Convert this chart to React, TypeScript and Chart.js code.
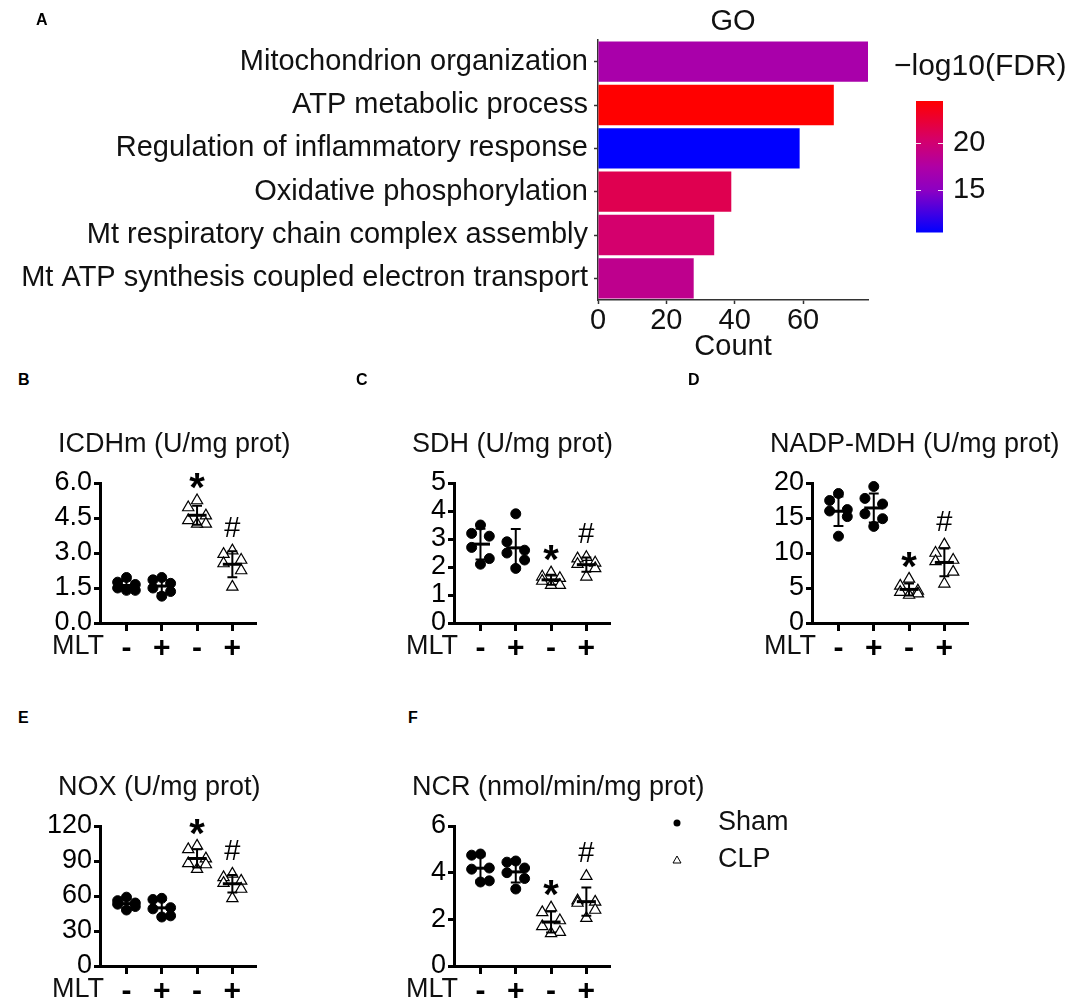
import React, { useEffect, useRef } from 'react';
import { Chart, registerables } from 'chart.js';

Chart.register(...registerables);

const FONT = '"Liberation Sans", Arial, Helvetica, sans-serif';
Chart.defaults.font.family = FONT;
Chart.defaults.color = '#000';

// ---------- Panel A: GO enrichment ----------
const goTerms = [
  'Mitochondrion organization',
  'ATP metabolic process',
  'Regulation of inflammatory response',
  'Oxidative phosphorylation',
  'Mt respiratory chain complex assembly',
  'Mt ATP synthesis coupled electron transport',
];
const goCounts = [79, 69, 59, 39, 34, 28];
const goLogFdr = [17.0, 24.4, 10.5, 21.3, 20.2, 18.6];
const countTicks = [0, 20, 40, 60];
const fdrTicks = [15, 20];

// ---------- Panels B–F (groups: Sham MLT−, Sham MLT+, CLP MLT−, CLP MLT+) ----------
const mltLabels = ['-', '+', '-', '+'];
const sigMarks = ['', '', '*', '#'];
const legendNames = ['Sham', 'CLP'];

const icdhmValues = [
  [1.95, 1.75, 1.65, 1.5, 1.4, 1.4],
  [1.95, 1.85, 1.7, 1.5, 1.35, 1.15],
  [5.25, 4.95, 4.6, 4.4, 4.25, 4.25],
  [3.1, 2.95, 2.7, 2.55, 2.25, 1.55],
];
const icdhmTicks = [0, 1.5, 3, 4.5, 6];

const sdhValues = [
  [3.5, 3.2, 3.1, 2.7, 2.3, 2.1],
  [3.9, 2.9, 2.6, 2.5, 2.25, 1.95],
  [1.8, 1.65, 1.6, 1.5, 1.35, 1.35],
  [2.35, 2.3, 2.15, 2.1, 1.95, 1.65],
];
const sdhTicks = [0, 1, 2, 3, 4, 5];

const nadpValues = [
  [18.5, 17.5, 16.2, 16.0, 15.2, 12.4],
  [19.5, 17.8, 17.0, 15.6, 14.9, 13.8],
  [6.3, 5.3, 4.6, 4.4, 4.2, 4.0],
  [11.2, 10.0, 9.0, 8.8, 7.3, 5.6],
];
const nadpTicks = [0, 5, 10, 15, 20];

const noxValues = [
  [59, 56, 54, 53, 51, 48],
  [58, 57, 50, 49, 43, 42],
  [103, 100, 92, 88, 87, 83],
  [79, 76, 73, 71, 66, 58],
];
const noxTicks = [0, 30, 60, 90, 120];

const ncrValues = [
  [4.8, 4.75, 4.2, 4.15, 3.65, 3.6],
  [4.5, 4.45, 4.2, 4.0, 3.75, 3.3],
  [2.5, 2.3, 1.95, 1.7, 1.45, 1.4],
  [3.85, 2.8, 2.75, 2.7, 2.4, 2.05],
];
const ncrTicks = [0, 2, 4, 6];

// ---------- styling helpers ----------
const RAMP: [number, number[]][] = [
  [0, [0, 0, 255]],
  [0.32, [140, 0, 195]],
  [0.5, [175, 0, 165]],
  [0.7, [212, 0, 108]],
  [1, [255, 0, 0]],
];
function rampColor(f: number): string {
  const t = Math.max(0, Math.min(1, f));
  for (let i = 1; i < RAMP.length; i++) {
    const [p1, c1] = RAMP[i];
    const [p0, c0] = RAMP[i - 1];
    if (t <= p1) {
      const u = (t - p0) / (p1 - p0);
      const c = c0.map((v, k) => Math.round(v + (c1[k] - v) * u));
      return `rgb(${c[0]},${c[1]},${c[2]})`;
    }
  }
  return 'rgb(255,0,0)';
}
const fdrLo = Math.min(...goLogFdr);
const fdrHi = Math.max(...goLogFdr);

const JITTER = [0, -0.25, 0.25, -0.25, 0.25, 0];

// ---------- Panel A bars ----------
function GoBars() {
  const ref = useRef<HTMLCanvasElement>(null);
  useEffect(() => {
    const chart = new Chart(ref.current as HTMLCanvasElement, {
      type: 'bar',
      data: {
        labels: goTerms,
        datasets: [
          {
            data: goCounts,
            backgroundColor: goLogFdr.map((v) => rampColor((v - fdrLo) / (fdrHi - fdrLo))),
            borderWidth: 0,
            barPercentage: 0.93,
            categoryPercentage: 1,
          },
        ],
      },
      options: {
        indexAxis: 'y',
        responsive: false,
        animation: false,
        layout: { padding: { top: 40, right: 32, left: 0, bottom: 0 } },
        plugins: { legend: { display: false }, tooltip: { enabled: false } },
        scales: {
          x: {
            type: 'linear',
            min: 0,
            max: Math.max(...goCounts),
            afterBuildTicks: (s: any) => {
              s.ticks = countTicks.map((v) => ({ value: v }));
            },
            afterFit: (s: any) => {
              s.height = 70;
            },
            ticks: { font: { size: 29 }, color: '#111', padding: 0, maxRotation: 0, autoSkip: false },
            grid: { drawOnChartArea: false, tickLength: 4, tickWidth: 1.5, tickColor: '#333' },
            border: { color: '#333', width: 1.5 },
            title: { display: true, text: 'Count', font: { size: 29 }, color: '#111', padding: { top: 0, bottom: 6 } },
          },
          y: {
            afterFit: (s: any) => {
              s.width = 598;
            },
            ticks: { font: { size: 29 }, color: '#111', padding: 6, autoSkip: false },
            grid: { offset: false, drawOnChartArea: false, tickLength: 4, tickWidth: 1.5, tickColor: '#333' },
            border: { color: '#333', width: 1.5 },
          },
        },
      } as any,
      plugins: [
        {
          id: 'goTitle',
          afterDraw(c: any) {
            const { ctx, chartArea } = c;
            ctx.save();
            ctx.font = `29px ${FONT}`;
            ctx.fillStyle = '#111';
            ctx.textAlign = 'center';
            ctx.textBaseline = 'middle';
            ctx.fillText('GO', (chartArea.left + chartArea.right) / 2, 22);
            ctx.restore();
          },
        },
      ],
    });
    return () => chart.destroy();
  }, []);
  return <canvas ref={ref} width={900} height={370} style={{ position: 'absolute', left: 0, top: 0, width: 900, height: 370 }} />;
}

// ---------- Panel A colour bar ----------
function ColorBar() {
  const ref = useRef<HTMLCanvasElement>(null);
  useEffect(() => {
    const chart = new Chart(ref.current as HTMLCanvasElement, {
      type: 'bar',
      data: {
        labels: [''],
        datasets: [
          {
            data: [[fdrLo, fdrHi]] as any,
            backgroundColor: (ctx: any) => {
              const { chart: ch } = ctx;
              const area = ch.chartArea;
              if (!area) return 'rgb(170,0,170)';
              const g = ch.ctx.createLinearGradient(0, area.bottom, 0, area.top);
              RAMP.forEach(([p]) => g.addColorStop(p, rampColor(p)));
              return g;
            },
            borderWidth: 0,
            barPercentage: 1,
            categoryPercentage: 1,
          },
        ],
      },
      options: {
        responsive: false,
        animation: false,
        layout: { padding: { top: 61, left: 36, bottom: 20, right: 0 } },
        plugins: { legend: { display: false }, tooltip: { enabled: false } },
        scales: {
          x: { display: false },
          y: {
            position: 'right',
            min: fdrLo,
            max: fdrHi,
            afterBuildTicks: (s: any) => {
              s.ticks = fdrTicks.map((v) => ({ value: v }));
            },
            afterFit: (s: any) => {
              s.width = 141;
            },
            ticks: { font: { size: 29 }, color: '#111', padding: 10, autoSkip: false },
            grid: { display: true, drawOnChartArea: false, drawTicks: false },
            border: { display: false },
          },
        },
      } as any,
      plugins: [
        {
          id: 'cbExtras',
          afterDatasetsDraw(c: any) {
            const { ctx, chartArea, scales } = c;
            ctx.save();
            ctx.strokeStyle = 'rgba(255,255,255,0.9)';
            ctx.lineWidth = 1;
            fdrTicks.forEach((v) => {
              const y = Math.round(scales.y.getPixelForValue(v)) + 0.5;
              ctx.beginPath();
              ctx.moveTo(chartArea.left, y);
              ctx.lineTo(chartArea.left + 5, y);
              ctx.moveTo(chartArea.right - 5, y);
              ctx.lineTo(chartArea.right, y);
              ctx.stroke();
            });
            ctx.font = `30px ${FONT}`;
            ctx.fillStyle = '#111';
            ctx.textAlign = 'left';
            ctx.textBaseline = 'middle';
            ctx.fillText('\u2212log10(FDR)', 14, 27);
            ctx.restore();
          },
        },
      ],
    });
    return () => chart.destroy();
  }, []);
  return <canvas ref={ref} width={204} height={220} style={{ position: 'absolute', left: 880, top: 40, width: 204, height: 220 }} />;
}

// ---------- Panels B–F dot plots ----------
type Box = { left: number; right: number; top: number; bottom: number };
type DotProps = {
  title: string;
  groups: number[][];
  yTicks: number[];
  decimals: number;
  box: Box;
  legend?: boolean;
};

function DotPanel({ title, groups, yTicks, decimals, box, legend }: DotProps) {
  const ref = useRef<HTMLCanvasElement>(null);
  const AXW = 70;
  const AXH = 45;
  const PADT = 100;
  const PADR = legend ? 200 : 112;
  const width = AXW + (box.right - box.left) + PADR;
  const height = PADT + (box.bottom - box.top) + AXH;

  useEffect(() => {
    const sham: { x: number; y: number }[] = [];
    const clp: { x: number; y: number }[] = [];
    groups.forEach((vals, gi) => {
      const sorted = [...vals].sort((a, b) => b - a);
      sorted.forEach((v, i) => {
        const pt = { x: gi + 1 + JITTER[i % JITTER.length], y: v };
        (gi < 2 ? sham : clp).push(pt);
      });
    });

    const extras = {
      id: 'dotExtras',
      afterDatasetsDraw(c: any) {
        const { ctx, chartArea: a, scales } = c;
        const xs = scales.x;
        const ys = scales.y;
        ctx.save();
        ctx.strokeStyle = '#000';
        ctx.fillStyle = '#000';
        groups.forEach((vals, gi) => {
          const n = vals.length;
          const m = vals.reduce((s, v) => s + v, 0) / n;
          const sd = Math.sqrt(vals.reduce((s, v) => s + (v - m) * (v - m), 0) / (n - 1));
          const cx = xs.getPixelForValue(gi + 1);
          const hw = xs.getPixelForValue(gi + 1.27) - cx;
          const cw = xs.getPixelForValue(gi + 1.14) - cx;
          const yT = ys.getPixelForValue(m + sd);
          const yB = ys.getPixelForValue(m - sd);
          const yM = ys.getPixelForValue(m);
          ctx.lineWidth = 2;
          ctx.beginPath();
          ctx.moveTo(cx, yT);
          ctx.lineTo(cx, yB);
          ctx.moveTo(cx - cw, yT);
          ctx.lineTo(cx + cw, yT);
          ctx.moveTo(cx - cw, yB);
          ctx.lineTo(cx + cw, yB);
          ctx.stroke();
          ctx.lineWidth = 3;
          ctx.beginPath();
          ctx.moveTo(cx - hw, yM);
          ctx.lineTo(cx + hw, yM);
          ctx.stroke();
          const mark = sigMarks[gi];
          if (mark) {
            const topPx = ys.getPixelForValue(Math.max(Math.max(...vals), m + sd));
            const cy = topPx - 22;
            ctx.textAlign = 'center';
            if (mark === '*') {
              ctx.font = `bold 40px ${FONT}`;
              ctx.textBaseline = 'alphabetic';
              ctx.fillText('*', cx, cy + 0.57 * 40);
            } else {
              ctx.font = `29px ${FONT}`;
              ctx.textBaseline = 'middle';
              ctx.fillText('#', cx, cy);
            }
          }
        });
        // title
        ctx.font = `27px ${FONT}`;
        ctx.textAlign = 'left';
        ctx.textBaseline = 'middle';
        ctx.fillStyle = '#111';
        ctx.fillText(title, a.left - 42, a.top - 38);
        // MLT row label
        ctx.textAlign = 'right';
        ctx.fillText('MLT', a.left + 4, a.bottom + 24);
        if (legend) {
          const lx = a.right + 67;
          const ty = a.top - 3;
          const cy2 = a.top + 34;
          ctx.fillStyle = '#000';
          ctx.beginPath();
          ctx.arc(lx, ty, 3.5, 0, Math.PI * 2);
          ctx.fill();
          ctx.lineWidth = 1;
          ctx.beginPath();
          ctx.moveTo(lx, cy2 - 4);
          ctx.lineTo(lx + 4, cy2 + 3);
          ctx.lineTo(lx - 4, cy2 + 3);
          ctx.closePath();
          ctx.fillStyle = '#fff';
          ctx.fill();
          ctx.stroke();
          ctx.fillStyle = '#111';
          ctx.textAlign = 'left';
          ctx.font = `27px ${FONT}`;
          ctx.fillText(legendNames[0], a.right + 108, ty);
          ctx.fillText(legendNames[1], a.right + 108, cy2);
        }
        ctx.restore();
      },
    };

    const chart = new Chart(ref.current as HTMLCanvasElement, {
      type: 'scatter',
      data: {
        datasets: [
          {
            label: legendNames[0],
            data: sham,
            pointStyle: 'circle',
            pointRadius: 5,
            backgroundColor: '#000',
            borderColor: '#000',
            borderWidth: 1,
            clip: false,
          },
          {
            label: legendNames[1],
            data: clp,
            pointStyle: 'triangle',
            pointRadius: 6.5,
            backgroundColor: '#fff',
            borderColor: '#000',
            borderWidth: 1.2,
            clip: false,
          },
        ],
      },
      options: {
        responsive: false,
        animation: false,
        layout: { padding: { top: PADT, right: PADR, left: 0, bottom: 0 } },
        plugins: { legend: { display: false }, tooltip: { enabled: false } },
        scales: {
          x: {
            type: 'linear',
            min: 0.25,
            max: 4.67,
            afterBuildTicks: (s: any) => {
              s.ticks = mltLabels.map((_, i) => ({ value: i + 1 }));
            },
            afterFit: (s: any) => {
              s.height = AXH;
            },
            ticks: {
              callback: (_v: any, i: number) => mltLabels[i],
              font: { size: 30, weight: 'bold' },
              color: '#000',
              padding: 0,
              maxRotation: 0,
              autoSkip: false,
            },
            grid: { drawOnChartArea: false, drawTicks: true, tickLength: 8, tickWidth: 3, tickColor: '#000' },
            border: { display: true, color: '#000', width: 3 },
          },
          y: {
            type: 'linear',
            min: yTicks[0],
            max: yTicks[yTicks.length - 1],
            afterBuildTicks: (s: any) => {
              s.ticks = yTicks.map((v) => ({ value: v }));
            },
            afterFit: (s: any) => {
              s.width = AXW;
            },
            ticks: {
              callback: (v: any) => Number(v).toFixed(decimals),
              font: { size: 27 },
              color: '#000',
              padding: 2,
              autoSkip: false,
            },
            grid: { drawOnChartArea: false, tickLength: 6, tickWidth: 3, tickColor: '#000' },
            border: { color: '#000', width: 3 },
          },
        },
      } as any,
      plugins: [extras],
    });
    return () => chart.destroy();
  }, []);

  return (
    <canvas
      ref={ref}
      width={width}
      height={height}
      style={{ position: 'absolute', left: box.left - AXW, top: box.top - PADT, width, height }}
    />
  );
}

const letterStyle: React.CSSProperties = {
  position: 'absolute',
  fontFamily: FONT,
  fontWeight: 'bold',
  fontSize: 16,
  lineHeight: '16px',
  color: '#000',
};

export default function App() {
  return (
    <div
      style={{
        position: 'absolute',
        left: 0,
        top: 0,
        width: 1084,
        height: 1005,
        background: '#fff',
        overflow: 'hidden',
        fontFamily: FONT,
      }}
    >
      <GoBars />
      <ColorBar />
      <DotPanel title="ICDHm (U/mg prot)" groups={icdhmValues} yTicks={icdhmTicks} decimals={1} box={{ left: 100, right: 256, top: 483, bottom: 623 }} />
      <DotPanel title="SDH (U/mg prot)" groups={sdhValues} yTicks={sdhTicks} decimals={0} box={{ left: 454, right: 610, top: 483, bottom: 623 }} />
      <DotPanel title="NADP-MDH (U/mg prot)" groups={nadpValues} yTicks={nadpTicks} decimals={0} box={{ left: 812, right: 968, top: 483, bottom: 623 }} />
      <DotPanel title="NOX (U/mg prot)" groups={noxValues} yTicks={noxTicks} decimals={0} box={{ left: 100, right: 256, top: 826, bottom: 966 }} />
      <DotPanel title="NCR (nmol/min/mg prot)" groups={ncrValues} yTicks={ncrTicks} decimals={0} box={{ left: 454, right: 610, top: 826, bottom: 966 }} legend />
      <div style={{ ...letterStyle, left: 36, top: 12 }}>A</div>
      <div style={{ ...letterStyle, left: 18, top: 372 }}>B</div>
      <div style={{ ...letterStyle, left: 356, top: 372 }}>C</div>
      <div style={{ ...letterStyle, left: 688, top: 372 }}>D</div>
      <div style={{ ...letterStyle, left: 18, top: 710 }}>E</div>
      <div style={{ ...letterStyle, left: 408, top: 710 }}>F</div>
    </div>
  );
}
